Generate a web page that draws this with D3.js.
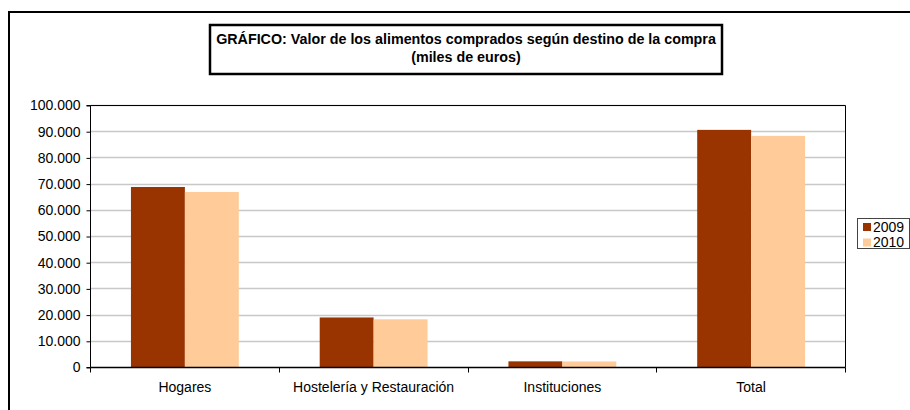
<!DOCTYPE html>
<html>
<head>
<meta charset="utf-8">
<script src="https://cdn.jsdelivr.net/npm/d3@7"></script>
<style>
  body { margin: 0; background: #fff; }
  text { font-family: Arial, "Liberation Sans", sans-serif; }
</style>
</head>
<body>
<div class="chart"></div>
<script>
// data (miles de euros)
let categories = ['Hogares', 'Hostelería y Restauración', 'Instituciones', 'Total'];
let years = ['2009', '2010'];
let values2009 = [68900, 19100, 2350, 90700];
let values2010 = [67000, 18400, 2300, 88400];
let yTicks = [0, 10000, 20000, 30000, 40000, 50000, 60000, 70000, 80000, 90000, 100000];
let colors = ['#993300', '#FFCC99'];

let margin = { top: 105.5, left: 90.5 };
let width = 755, height = 262;

let svg = d3.select('.chart')
    .append('svg')
    .attr('width', 910)
    .attr('height', 410);

// outer chart frame (runs off the window right and bottom)
svg.append('rect')
    .attr('x', 9).attr('y', 12)
    .attr('width', 920).attr('height', 420)
    .attr('fill', 'none')
    .attr('stroke', '#000')
    .attr('stroke-width', 2);

// title box
svg.append('rect')
    .attr('x', 210).attr('y', 25)
    .attr('width', 512).attr('height', 49)
    .attr('fill', '#fff')
    .attr('stroke', '#000')
    .attr('stroke-width', 2.5);

svg.append('text')
    .attr('x', 466).attr('y', 44)
    .style('text-anchor', 'middle')
    .style('font-weight', 'bold')
    .style('font-size', '14.3px')
    .text('GRÁFICO: Valor de los alimentos comprados según destino de la compra');

svg.append('text')
    .attr('x', 466).attr('y', 62)
    .style('text-anchor', 'middle')
    .style('font-weight', 'bold')
    .style('font-size', '14.3px')
    .text('(miles de euros)');

let g = svg.append('g')
    .attr('transform', 'translate(' + margin.left + ', ' + margin.top + ')');

let yScale = d3.scaleLinear()
    .domain([0, 100000])
    .range([height, 0]);

let xScale = d3.scaleBand()
    .domain(categories)
    .range([0, width])
    .paddingInner(0)
    .paddingOuter(0);

// gap width 150% like the spreadsheet default
let groupW = xScale.bandwidth() * 2 / 3.5;
let xInner = d3.scaleBand()
    .domain(years)
    .range([0, groupW]);

// gridlines
g.selectAll('line.grid')
    .data(yTicks.slice(1))
    .enter()
    .append('line')
    .attr('class', 'grid')
    .attr('x1', 0).attr('x2', width)
    .attr('y1', d => Math.round(yScale(d)))
    .attr('y2', d => Math.round(yScale(d)))
    .attr('stroke', '#c8c8c8')
    .attr('stroke-width', 1.5);

// plot frame top/right
g.append('path')
    .attr('d', `M0,0H${width}V${height}`)
    .attr('fill', 'none')
    .attr('stroke', '#000')
    .attr('stroke-width', 1);

// bars
let rows = categories.map((c, i) => ({ cat: c, vals: [values2009[i], values2010[i]] }));
let groups = g.selectAll('g.grp')
    .data(rows)
    .enter()
    .append('g')
    .attr('class', 'grp')
    .attr('transform', d => `translate(${xScale(d.cat) + (xScale.bandwidth() - groupW) / 2}, 0)`);

groups.selectAll('rect')
    .data(d => d.vals.map((v, j) => ({ year: years[j], v: v, j: j })))
    .enter()
    .append('rect')
    .attr('x', d => xInner(d.year))
    .attr('y', d => yScale(d.v))
    .attr('width', xInner.bandwidth())
    .attr('height', d => height - yScale(d.v))
    .style('fill', d => colors[d.j]);

// y axis
let fmt = d3.formatLocale({ decimal: ',', thousands: '.', grouping: [3], currency: ['', '€'] }).format(',');
let yAxis = d3.axisLeft(yScale)
    .tickValues(yTicks)
    .tickSize(4)
    .tickPadding(6)
    .tickFormat(fmt);
g.append('g')
    .call(yAxis)
    .call(a => a.select('.domain').attr('d', `M-4,0H0V${height}H-4`))
    .selectAll('text')
    .style('font-size', '14px')
    .style('fill', '#000');

// x axis with ticks at the category boundaries
let xAxis = g.append('g')
    .attr('transform', `translate(0, ${height})`);
xAxis.append('line')
    .attr('x1', 0).attr('x2', width)
    .attr('stroke', '#000').attr('stroke-width', 1.5);
xAxis.selectAll('line.tk')
    .data(d3.range(categories.length + 1))
    .enter()
    .append('line')
    .attr('class', 'tk')
    .attr('x1', i => Math.round(i * xScale.step()))
    .attr('x2', i => Math.round(i * xScale.step()))
    .attr('y1', 0).attr('y2', 5)
    .attr('stroke', '#000');
xAxis.selectAll('text')
    .data(categories)
    .enter()
    .append('text')
    .attr('x', d => xScale(d) + xScale.bandwidth() / 2)
    .attr('y', 24.5)
    .style('text-anchor', 'middle')
    .style('font-size', '14px')
    .text(d => d);

// legend
let legend = svg.append('g').attr('transform', 'translate(857, 218)');
legend.append('rect')
    .attr('x', 0.5).attr('y', 0.5)
    .attr('width', 52).attr('height', 30)
    .attr('fill', '#fff')
    .attr('stroke', '#444');
years.forEach((y, i) => {
    legend.append('rect')
        .attr('x', 6).attr('y', 5 + i * 15.5)
        .attr('width', 8).attr('height', 8)
        .style('fill', colors[i]);
    legend.append('text')
        .attr('x', 16).attr('y', 13.5 + i * 15.5)
        .style('font-size', '14px')
        .text(y);
});
</script>
</body>
</html>
